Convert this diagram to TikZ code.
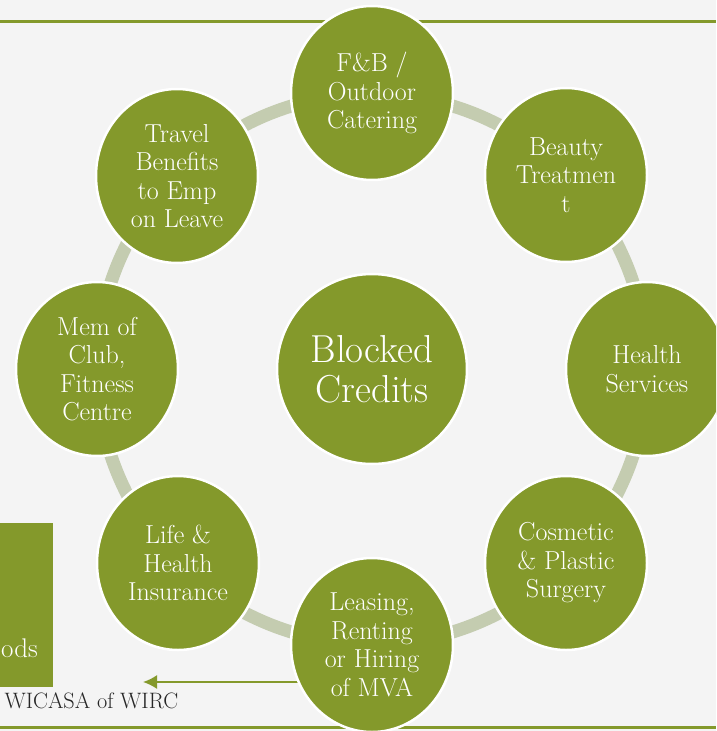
\documentclass[tikz,border=0pt]{standalone}
\usepackage{fontspec}
\usetikzlibrary{shapes.geometric, arrows.meta, backgrounds}

\definecolor{leafgreen}{RGB}{132,153,43}
\definecolor{sage}{RGB}{196,204,176}
\definecolor{paper}{RGB}{244,244,244}

\tikzset{
  bubble/.style={ellipse, fill=leafgreen, draw=white, line width=2.5pt,
    minimum width=162pt, minimum height=174pt, inner sep=0pt, align=center,
    text=white, font=\fontsize{26}{28.5}\selectfont},
  hub/.style={circle, fill=leafgreen, draw=white, line width=2.5pt,
    minimum size=190pt, inner sep=0pt, align=center, text=white,
    font=\fontsize{39}{40}\selectfont},
  link/.style={draw=sage, line width=13pt},
  rule/.style={draw=leafgreen, line width=3pt},
  pointer/.style={draw=leafgreen, line width=1.8pt, -{Latex[length=14pt, width=14pt]}},
}

\begin{document}
\begin{tikzpicture}[x=1pt, y=-1pt]
  \useasboundingbox (0,0) rectangle (716,731);
  \clip (0,0) rectangle (716,731);

  \node[hub] (blocked) at (372,369) {Blocked\\Credits};

  \node[bubble] (catering) at (372,93) {F\&B /\\Outdoor\\Catering};
  \node[bubble] (beauty) at (566,175) {Beauty\\Treatmen\\t};
  \node[bubble] (health) at (647,369) {Health\\Services};
  \node[bubble] (cosmetic) at (566,563) {Cosmetic\\\& Plastic\\Surgery};
  \node[bubble] (leasing) at (372,645) {Leasing,\\Renting\\or Hiring\\of MVA};
  \node[bubble] (insurance) at (178,563) {Life \&\\Health\\Insurance};
  \node[bubble] (club) at (97,369) {Mem of\\Club,\\Fitness\\Centre};
  \node[bubble] (travel) at (177,176) {Travel\\Benefits\\to Emp\\on Leave};

  % cut-off box on the left edge
  \node[fill=leafgreen, anchor=north west, minimum width=53pt, minimum height=164pt, inner sep=0pt] (goods) at (0,523) {};
  \node[anchor=base west, inner sep=0pt, text=white, font=\fontsize{27}{30}\selectfont] (goodstext) at (1,657) {ods};

  \node[anchor=base west, text=black!85, font=\fontsize{22.3}{26}\selectfont] (credit) at (1,708) {WICASA of WIRC};
  \coordinate (tip) at (143,682);

  \begin{pgfonlayer}{background}
    \fill[paper] (0,0) rectangle (716,731);
    \draw[rule] (0,21.5) -- (716,21.5);
    \draw[rule] (0,727) -- (716,727);
    \draw[link] (blocked.center) circle (275pt);
    \draw[pointer] (leasing.center |- tip) -- (tip);
  \end{pgfonlayer}
\end{tikzpicture}
\end{document}
